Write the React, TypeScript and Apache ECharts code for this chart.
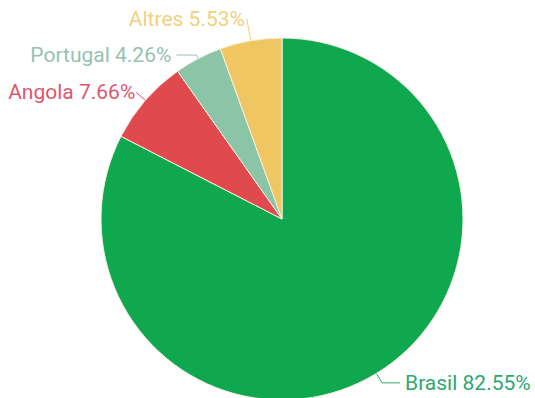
import React, { useEffect, useRef } from "react";
import * as echarts from "echarts";

const categories = ["Brasil", "Angola", "Portugal", "Altres"];
const values = [82.55, 7.66, 4.26, 5.53];
const colors = ["#10a84e", "#e04a4f", "#8cc4a8", "#f0c663"];
const labelColors = ["#2fa870", "#e0566a", "#95c2b0", "#f2d080"];
const lineLengths = [[11, 18], [12, 0], [4, 20], [22, 1]];
const labelGaps = [5, 1, 5, 1];

export default function App() {
  const ref = useRef<HTMLDivElement>(null);
  useEffect(() => {
    if (!ref.current) return;
    const chart = echarts.init(ref.current, null, { renderer: "svg" });
    chart.setOption({
      animation: false,
      series: [
        {
          type: "pie",
          center: [282, 219],
          radius: 181,
          startAngle: 90,
          clockwise: true,
          avoidLabelOverlap: true,
          itemStyle: { borderColor: "#f4f0e0", borderWidth: 1 },
          label: {
            show: true,
            formatter: (p: any) => `${p.name} ${p.value.toFixed(2)}%`,
            fontFamily: "Roboto",
            fontSize: 21,
            overflow: "none",
          },
          labelLine: { show: true, lineStyle: { width: 1 } },
          data: categories.map((c, i) => ({
            name: c,
            value: values[i],
            itemStyle: { color: colors[i] },
            label: { color: labelColors[i], distanceToLabelLine: labelGaps[i] },
            labelLine: {
              length: lineLengths[i][0],
              length2: lineLengths[i][1],
              lineStyle: { color: labelColors[i] },
            },
          })),
        },
      ],
    });
    return () => chart.dispose();
  }, []);
  return (
    <div
      ref={ref}
      style={{ position: "fixed", left: 0, top: 0, width: 535, height: 398, background: "#fff" }}
    />
  );
}
